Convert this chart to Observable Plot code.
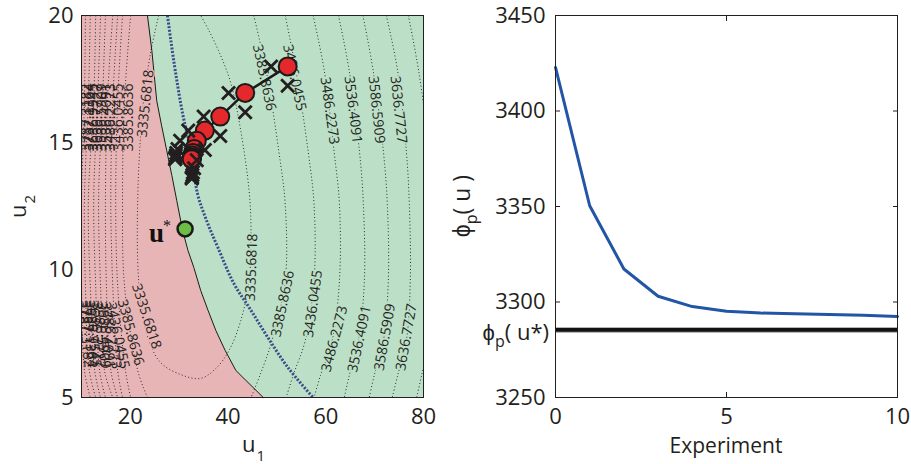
<!DOCTYPE html>
<html><head><meta charset="utf-8">
<script src="https://cdn.jsdelivr.net/npm/d3@7"></script>
<script src="https://cdn.jsdelivr.net/npm/@observablehq/plot@0.6"></script>
<style>
body{margin:0;background:#fff;}
#wrap{position:relative;width:911px;height:464px;overflow:hidden;background:#fff;}
#left,#right{position:absolute;top:0;}
#left{left:0;} #right{left:460px;}
#over{position:absolute;left:0;top:0;pointer-events:none;font-family:"Open Sans",sans-serif;fill:#231f20;}
</style></head><body>
<div id="wrap"><div id="left"></div><div id="right"></div><svg id="over" width="911" height="464"></svg></div>
<script>
// ---------- tick values ----------
const u1Ticks = [20, 40, 60, 80];
const u2Ticks = [5, 10, 15, 20];
const expTicks = [0, 5, 10];
const phiTicks = [3250, 3300, 3350, 3400, 3450];

// ---------- right panel: cost per experiment ----------
const experiment = [0, 1, 2, 3, 4, 5, 6, 7, 8, 9, 10];
const phiP = [3422.8, 3350.4, 3317.3, 3303.0, 3297.6, 3295.2, 3294.2, 3293.9, 3293.5, 3293.1, 3292.4];
const phiStar = 3285.4;

// ---------- left panel ----------
// constraint boundary (infeasible region to the left)
const boundaryU1 = [23.5, 24.4, 25.4, 26.4, 27.45, 28.5, 29.5, 30.7, 31.8, 33.0, 34.4, 35.9, 37.5, 39.4, 41.6, 47.2];
const boundaryU2 = [20, 18.62, 16.65, 15.67, 14.69, 13.71, 12.73, 11.55, 10.77, 10.1, 9.2, 8.42, 7.63, 6.85, 6.06, 5];

// blue dotted curve
const blueU1 = [27.6, 28.3, 29.3, 30.7, 32.4, 33.75, 35.7, 37.9, 41.2, 44.7, 48.1, 52.2, 57.4];
const blueU2 = [20, 19.0, 17.7, 16.14, 14.69, 13.0, 11.9, 10.9, 9.47, 8.42, 7.37, 6.19, 5];

// contour level 3335.6818 (closed loop)
const loopU1 = [25.8, 24.2, 22.7, 21.9, 21.5, 21.5, 22.1, 23.8, 26.2, 30.3, 34.4, 37.5, 40.2, 42.6, 44.3, 44.7, 44.3, 42.6, 40.6, 38.5, 36.1, 34.4];
const loopU2 = [20, 18.6, 16.65, 14.69, 12.73, 10.38, 8.81, 7.24, 6.37, 5.9, 5.75, 6.14, 6.85, 8.02, 9.59, 11.55, 13.12, 15.47, 17.32, 18.42, 19.4, 20];

// right-hand contour branches: u1 at the u2 rows below
const rightRowU2 = [20, 17.83, 14.65, 12.57, 9.59, 7.24, 5.86, 5];
const rightLevels = ["3385.8636", "3436.0455", "3486.2273", "3536.4091", "3586.5909", "3636.7727", "3686.9545"];
const rightBranchU1 = [
  [45.25, 47.8, 50.4, 51.7, 51.7, 49.0, 46.5, 44.7],
  [51.7, 53.9, 56.4, 57.6, 57.6, 55.8, 53.3, 51.9],
  [57.4, 59.7, 61.7, 62.8, 62.8, 61.3, 58.9, 57.6],
  [62.6, 64.8, 66.9, 67.7, 67.9, 66.7, 64.8, 63.8],
  [67.6, 69.7, 71.8, 72.6, 72.8, 71.8, 69.9, 68.9],
  [72.4, 74.7, 76.5, 77.1, 77.3, 76.5, 74.7, 73.6],
  [76.9, 79.0, 81.2, 82.0, 82.2, 81.2, 79.6, 78.6]
];
// left-hand (dense) contour branches
const leftRowU2 = [20, 16.65, 12.73, 9.4, 6.06, 5];
const leftLevels = ["3385.8636", "3436.0455", "3486.2273", "3536.4091", "3586.5909", "3636.7727", "3686.9545", "3737.1364", "3787.3182"];
const leftBranchU1 = [
  [20.06, 18.8, 18.4, 18.8, 21.5, 23.5],
  [18.4, 17.4, 17.0, 17.4, 19.0, 20.06],
  [17.4, 16.4, 16.0, 16.4, 17.4, 18.4],
  [16.4, 15.3, 14.9, 15.1, 16.0, 17.4],
  [14.9, 14.3, 13.5, 13.9, 14.7, 16.4],
  [13.9, 13.3, 12.5, 12.9, 13.7, 14.9],
  [12.9, 12.5, 11.4, 11.8, 12.7, 13.9],
  [11.8, 11.4, 10.6, 10.8, 11.6, 12.9],
  [10.8, 10.6, 10.0, 10.0, 10.6, 11.8]
];

// contour labels (feasible area, infeasible area, left stacks)
const greenLabelText = ["3385.8636", "3436.0455", "3486.2273", "3536.4091", "3586.5909", "3636.7727",
                        "3335.6818", "3385.8636", "3436.0455", "3486.2273", "3536.4091", "3586.5909", "3636.7727"];
const greenLabelU1 = [47.4, 53.6, 60.8, 65.6, 70.4, 74.9, 44.8, 51.2, 57.4, 61.8, 66.9, 72.1, 76.5];
const greenLabelU2 = [17.56, 17.56, 16.26, 16.3, 16.3, 16.3, 10.11, 8.68, 8.68, 7.3, 7.3, 7.37, 7.37];
const greenLabelAngle = [78, 78, 82, 83, 84, 84, -88, -78, -82, -75, -78, -80, -80];

const pinkLabelText = ["3335.6818", "3335.6818"];
const pinkLabelU1 = [23.1, 23.3];
const pinkLabelU2 = [16.54, 8.19];
const pinkLabelAngle = [-84, 72];

const stackLabelText = ["3385.8636", "3436.0455", "3486.2273", "3536.4091", "3586.5909", "3636.7727", "3686.9545", "3737.1364", "3787.3182",
                        "3385.8636", "3436.0455", "3486.2273", "3536.4091", "3586.5909", "3636.7727", "3686.9545", "3737.1364", "3787.3182"];
const stackLabelU1 = [19.6, 17.6, 15.95, 15.13, 14.1, 13.3, 12.5, 11.6, 11.0,
                      20.06, 17.4, 16.0, 15.0, 14.0, 13.1, 12.3, 11.5, 10.8];
const stackLabelU2 = [16.0, 16.0, 16.0, 16.0, 16.0, 16.0, 16.0, 16.0, 16.0,
                      7.56, 7.43, 7.43, 7.45, 7.45, 7.5, 7.5, 7.5, 7.5];
const stackLabelAngle = [-90, -90, -90, -90, -90, -90, -90, -90, -90,
                         75, 78, 80, 82, 82, 84, 84, 84, 84];

// iterates (red circles)
const iterU1 = [52.2, 43.5, 38.4, 35.25, 33.6, 33.05, 32.8, 32.7, 32.6, 32.6, 32.55];
const iterU2 = [18.0, 16.96, 16.03, 15.48, 15.08, 14.76, 14.6, 14.5, 14.42, 14.38, 14.36];
// perturbed points (crosses)
const crossU1 = [48.8, 52.2, 40.1, 43.5, 35.0, 38.4, 31.85, 35.25, 30.2, 33.6, 29.65, 33.05, 29.4, 32.8, 29.3, 32.7, 29.2, 32.6, 29.2, 32.6, 29.15, 32.55];
const crossU2 = [18.0, 17.24, 16.96, 16.2, 16.03, 15.27, 15.48, 14.72, 15.08, 14.32, 14.76, 14.0, 14.6, 13.84, 14.5, 13.74, 14.42, 13.66, 14.38, 13.62, 14.36, 13.6];
// optimum
const uStarU1 = 31.2, uStarU2 = 11.62;

// ---------- build tables ----------
const zip = (a, b) => a.map((u1, i) => ({u1, u2: b[i]}));
const boundary = zip(boundaryU1, boundaryU2);
const blue = zip(blueU1, blueU2);
const iterates = zip(iterU1, iterU2);
const crosses = zip(crossU1, crossU2);
const contours = [];
loopU1.forEach((u1, i) => contours.push({key: "loop", u1, u2: loopU2[i]}));
rightLevels.forEach((lev, k) => rightBranchU1[k].forEach((u1, i) => contours.push({key: "R" + lev, u1, u2: rightRowU2[i]})));
leftLevels.forEach((lev, k) => leftBranchU1[k].forEach((u1, i) => contours.push({key: "L" + lev, u1, u2: leftRowU2[i]})));
const mkLabels = (t, a, b, r) => t.map((text, i) => ({text, u1: a[i], u2: b[i], angle: r[i]}));
const greenLabels = mkLabels(greenLabelText, greenLabelU1, greenLabelU2, greenLabelAngle);
const pinkLabels = mkLabels(pinkLabelText, pinkLabelU1, pinkLabelU2, pinkLabelAngle);
const stackLabels = mkLabels(stackLabelText, stackLabelU1, stackLabelU2, stackLabelAngle);
const expRows = experiment.map((x, i) => ({x, y: phiP[i]}));

const GREEN = "#bcdfc7", PINK = "#e8b5b6", INK = "#231f20";
const style = {fontFamily: "'Open Sans', sans-serif", fontSize: "22px", color: INK, background: "transparent", overflow: "visible"};
const plain = d => String(d);

const leftChart = Plot.plot({
  width: 460, height: 464,
  marginLeft: 81, marginRight: 37, marginTop: 15, marginBottom: 67,
  x: {domain: [10, 80]},
  y: {domain: [5, 20]},
  style,
  marks: [
    Plot.frame({fill: GREEN, stroke: "none"}),
    Plot.areaX(boundary, {y: "u2", x1: () => 10, x2: "u1", fill: PINK}),
    Plot.line(contours, {x: "u1", y: "u2", z: "key", stroke: "#2a2a2a", strokeWidth: 1, strokeDasharray: "1 2.4", strokeLinecap: "butt", curve: "catmull-rom", clip: true}),
    Plot.line(boundary, {x: "u1", y: "u2", stroke: "#1a1a1a", strokeWidth: 1}),
    Plot.text(greenLabels, {x: "u1", y: "u2", text: "text", rotate: "angle", fontSize: 14, fill: INK, stroke: GREEN, strokeWidth: 3, paintOrder: "stroke", clip: true}),
    Plot.text(pinkLabels, {x: "u1", y: "u2", text: "text", rotate: "angle", fontSize: 14, fill: INK, stroke: PINK, strokeWidth: 3, paintOrder: "stroke", clip: true}),
    Plot.text(stackLabels, {x: "u1", y: "u2", text: "text", rotate: "angle", fontSize: 14, fill: INK, clip: true}),
    Plot.line(blue, {x: "u1", y: "u2", stroke: "#3c4b8a", strokeWidth: 3, strokeDasharray: "2 1.6", strokeLinecap: "butt", curve: "catmull-rom"}),
    Plot.line(iterates, {x: "u1", y: "u2", stroke: "#1a1a1a", strokeWidth: 2.5}),
    Plot.dot(iterates, {x: "u1", y: "u2", r: 9, fill: "#e4282b", stroke: "#1a1a1a", strokeWidth: 2}),
    Plot.dot(crosses, {x: "u1", y: "u2", symbol: "times", r: 6, stroke: INK, strokeWidth: 2.8}),
    Plot.dot([{u1: uStarU1, u2: uStarU2}], {x: "u1", y: "u2", r: 7.5, fill: "#6cbd45", stroke: "#1a1a1a", strokeWidth: 2.5}),
    Plot.text([{u1: uStarU1, u2: uStarU2}], {x: "u1", y: "u2", text: () => "u", textAnchor: "end", dx: -21, dy: 4, fontSize: 27, fontWeight: "bold", fontFamily: "'Liberation Serif', serif", fill: "#111"}),
    Plot.text([{u1: uStarU1, u2: uStarU2}], {x: "u1", y: "u2", text: () => "*", textAnchor: "middle", dx: -18, dy: -3, fontSize: 16, fontFamily: "'Liberation Serif', serif", fill: "#111"}),
    Plot.frame({stroke: INK, strokeWidth: 1}),
    Plot.axisX({ticks: u1Ticks, tickSize: 0, tickPadding: 11, tickFormat: plain, label: null}),
    Plot.axisY({ticks: u2Ticks, tickSize: 0, tickPadding: 8, tickFormat: plain, label: null})
  ]
});
document.getElementById("left").append(leftChart);

const blank = () => "";
const rightChart = Plot.plot({
  width: 451, height: 464,
  marginLeft: 95, marginRight: 14, marginTop: 15, marginBottom: 67,
  x: {domain: [0, 10]},
  y: {domain: [3250, 3450]},
  style,
  marks: [
    Plot.ruleY([phiStar], {stroke: "#b5b5b5", strokeWidth: 6}),
    Plot.ruleY([phiStar], {stroke: "#111", strokeWidth: 3.6}),
    Plot.line(expRows, {x: "x", y: "y", stroke: "#2255a5", strokeWidth: 3}),
    Plot.frame({stroke: INK, strokeWidth: 1}),
    Plot.axisX({ticks: expTicks, tickSize: 0, tickPadding: 11, tickFormat: plain, label: null}),
    Plot.axisY({ticks: phiTicks, tickSize: 0, tickPadding: 10, tickFormat: plain, label: null}),
    Plot.axisX({ticks: expTicks, anchor: "bottom", tickSize: 5, dy: -5, tickFormat: blank, label: null}),
    Plot.axisX({ticks: expTicks, anchor: "top", tickSize: 5, dy: 5, tickFormat: blank, label: null}),
    Plot.axisY({ticks: phiTicks, anchor: "left", tickSize: 5, dx: 5, tickFormat: blank, label: null}),
    Plot.axisY({ticks: phiTicks, anchor: "right", tickSize: 5, dx: -5, tickFormat: blank, label: null})
  ]
});
document.getElementById("right").append(rightChart);

// ---------- axis titles ----------
const yStar = rightChart.scale("y").apply(phiStar);
document.getElementById("over").innerHTML = `
  <text x="242" y="452" font-size="22">u<tspan font-size="15" dx="1" dy="9">1</tspan></text>
  <text transform="translate(26,218) rotate(-90)" font-size="22">u<tspan font-size="15" dx="1" dy="9">2</tspan></text>
  <text transform="translate(470,206) rotate(-90)" text-anchor="middle" font-size="23">ϕ<tspan font-size="16" dy="7">p</tspan><tspan dy="-7">( u )</tspan></text>
  <text x="549" y="${yStar + 11}" text-anchor="end" font-size="22">ϕ<tspan font-size="16" dy="7">p</tspan><tspan dy="-7">( u*)</tspan></text>
  <text x="726" y="453" text-anchor="middle" font-size="21">Experiment</text>
`;
</script>
</body></html>
